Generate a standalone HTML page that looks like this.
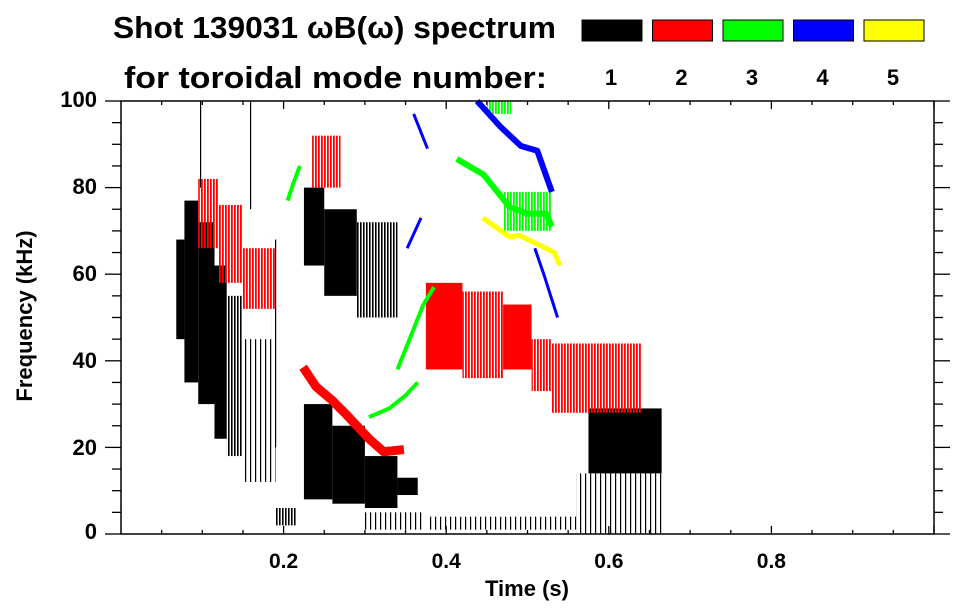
<!DOCTYPE html>
<html><head><meta charset="utf-8"><style>
html,body{margin:0;padding:0;background:#fff;}
svg{display:block;font-family:"Liberation Sans",sans-serif;font-weight:bold;}
</style></head><body>
<svg id="chart" width="963" height="615" viewBox="0 0 963 615" xmlns="http://www.w3.org/2000/svg">
<defs>
<pattern id="stripe-black" width="3" height="4" patternUnits="userSpaceOnUse"><rect width="1.6" height="4" fill="#000"/></pattern>
<pattern id="sparse-black" width="5" height="4" patternUnits="userSpaceOnUse"><rect width="1.2" height="4" fill="#000"/></pattern>
<pattern id="stripe-red" width="3" height="4" patternUnits="userSpaceOnUse"><rect width="1.8" height="4" fill="#f00"/></pattern>
<pattern id="stripe-green" width="3" height="4" patternUnits="userSpaceOnUse"><rect width="1.8" height="4" fill="#0f0"/></pattern>
</defs>
<g>
<text x="113" y="38" font-size="31" textLength="443" lengthAdjust="spacingAndGlyphs">Shot 139031 ωB(ω) spectrum</text>
<text x="124" y="88" font-size="31" textLength="423" lengthAdjust="spacingAndGlyphs">for toroidal mode number:</text>
</g>
<g id="legend"></g>
<g id="marks"></g>
<g id="axes"></g>
<text x="527" y="596" font-size="22" text-anchor="middle">Time (s)</text>
<text transform="translate(32,316) rotate(-90)" font-size="22" text-anchor="middle">Frequency (kHz)</text>
</svg>
<script>
// axis domains
const tMin = 0, tMax = 1, fMin = 0, fMax = 100;
const L = 121, R = 934, T = 101, B = 534;
function X(t){ return L + (t - tMin) / (tMax - tMin) * (R - L); }
function Y(f){ return B - (f - fMin) / (fMax - fMin) * (B - T); }

const xTicks = [0.2, 0.4, 0.6, 0.8];
const xTickLabels = ["0.2", "0.4", "0.6", "0.8"];
const yTicks = [0, 20, 40, 60, 80, 100];
const yTickLabels = ["0", "20", "40", "60", "80", "100"];
const legendModes = ["1", "2", "3", "4", "5"];
const legendColors = ["#000000", "#ff0000", "#00ff00", "#0000ff", "#ffff00"];

// blobs: time start, time end, freq low, freq high, density (2=solid,1=striped,0=sparse)
const m1T0 = [0.068,0.078,0.095,0.115,0.13,0.15,0.185,0.19,0.225,0.25,0.29,0.225,0.26,0.30,0.34,0.30,0.38,0.575,0.56,0.093,0.155];
const m1T1 = [0.078,0.095,0.115,0.13,0.15,0.19,0.195,0.215,0.25,0.29,0.34,0.26,0.30,0.34,0.365,0.37,0.56,0.665,0.665,0.10,0.162];
const m1F0 = [45,35,30,22,18,12,20,2,62,55,50,8,7,6,9,1,1,14,0,80,75];
const m1F1 = [68,77,72,62,55,45,68,6,80,75,72,30,25,18,13,5,4,29,14,100,100];
const m1D  = [2,2,2,2,1,0,0,1,2,2,1,2,2,2,2,0,0,2,0,0,0];

const m2T0 = [0.095,0.12,0.15,0.235,0.375,0.42,0.47,0.505,0.53];
const m2T1 = [0.12,0.15,0.19,0.27,0.42,0.47,0.505,0.53,0.64];
const m2F0 = [66,58,52,80,38,36,38,33,28];
const m2F1 = [82,76,66,92,58,56,53,45,44];
const m2D  = [1,1,1,1,2,1,2,1,0];

const m3T0 = [0.47];
const m3T1 = [0.53];
const m3F0 = [70];
const m3F1 = [79];
const m3D  = [1];

const m5T0 = [0.45];
const m5T1 = [0.48];
const m5F0 = [97];
const m5F1 = [100];
const m5D  = [1];

// ridge curves
const redCurveT = [0.224,0.24,0.259,0.275,0.29,0.305,0.323,0.348];
const redCurveF = [38.5,34,31,28,25,22,19,19.5];
const greenAT = [0.205,0.212,0.22];
const greenAF = [77,81,85];
const greenBT = [0.34,0.355,0.372,0.385];
const greenBF = [38,45,53,57];
const greenCT = [0.305,0.33,0.35,0.365];
const greenCF = [27,29,32,35];
const greenDT = [0.413,0.446,0.478,0.50,0.523,0.53];
const greenDF = [86.6,83,75.5,74,74,71];
const blueET = [0.438,0.467,0.492,0.512,0.53];
const blueEF = [100,94,89.6,88.5,79];
const blueFT = [0.36,0.377];
const blueFF = [97,89];
const blueGT = [0.352,0.369];
const blueGF = [66,73];
const blueHT = [0.509,0.52,0.537];
const blueHF = [66,60,50];
const yellowT = [0.445,0.46,0.478,0.49,0.533,0.54];
const yellowF = [73,71,68.6,69,65,62];

const NS = "http://www.w3.org/2000/svg";
const marks = document.getElementById("marks");
const axes = document.getElementById("axes");
const legend = document.getElementById("legend");
function mk(tag, attrs, parent){
  const el = document.createElementNS(NS, tag);
  for (const k in attrs) el.setAttribute(k, attrs[k]);
  parent.appendChild(el);
  return el;
}
function drawBlobs(t0, t1, f0, f1, d, color, stripe, sparse, name){
  for (let i = 0; i < t0.length; i++){
    const fill = d[i] === 2 ? color : (d[i] === 1 ? "url(#" + stripe + ")" : "url(#" + sparse + ")");
    const r = mk("rect", {x: X(t0[i]), y: Y(f1[i]), width: Math.max(1, X(t1[i]) - X(t0[i])), height: Math.max(1, Y(f0[i]) - Y(f1[i])), fill: fill}, marks);
    
    
  }
}
function drawCurve(ts, fs, color, w, name){
  const pts = ts.map((t, i) => X(t) + "," + Y(fs[i])).join(" ");
  const p = mk("polyline", {points: pts, fill: "none", stroke: color, "stroke-width": w, "stroke-linejoin": "round"}, marks);
  
  
}
drawBlobs(m1T0, m1T1, m1F0, m1F1, m1D, "#000", "stripe-black", "sparse-black", "mode-1-region");
drawBlobs(m2T0, m2T1, m2F0, m2F1, m2D, "#f00", "stripe-red", "stripe-red", "mode-2-region");
drawBlobs(m3T0, m3T1, m3F0, m3F1, m3D, "#0f0", "stripe-green", "stripe-green", "mode-3-region");
drawBlobs(m5T0, m5T1, m5F0, m5F1, m5D, "#ff0", "stripe-green", "stripe-green", "mode-5-region");
drawCurve(redCurveT, redCurveF, "#f00", 9, "mode-2-ridge");
drawCurve(greenAT, greenAF, "#0f0", 4, "mode-3-ridge-a");
drawCurve(greenBT, greenBF, "#0f0", 4, "mode-3-ridge-b");
drawCurve(greenCT, greenCF, "#0f0", 4, "mode-3-ridge-c");
drawCurve(greenDT, greenDF, "#0f0", 6, "mode-3-ridge-d");
drawCurve(blueET, blueEF, "#00f", 6, "mode-4-ridge-e");
drawCurve(blueFT, blueFF, "#00f", 3, "mode-4-ridge-f");
drawCurve(blueGT, blueGF, "#00f", 3, "mode-4-ridge-g");
drawCurve(blueHT, blueHF, "#00f", 3, "mode-4-ridge-h");
drawCurve(yellowT, yellowF, "#ff0", 5, "mode-5-ridge");

// frame
const fr = mk("rect", {x: L, y: T, width: R - L, height: B - T, fill: "none", stroke: "#000", "stroke-width": 1.5}, axes);


for (let t = 0.05; t < 1.0001; t += 0.05){
  const major = Math.abs(t * 5 - Math.round(t * 5)) < 1e-6;
  const len = major ? 8 : 4;
  const a = mk("line", {x1: X(t), x2: X(t), y1: B, y2: B - len, stroke: "#000", "stroke-width": 1.3}, axes);
  
  
  const b = mk("line", {x1: X(t), x2: X(t), y1: T, y2: T + len, stroke: "#000", "stroke-width": 1.3}, axes);
  
  
}
for (let f = 0; f <= 100; f += 5){
  const major = f % 20 === 0;
  const len = major ? 16 : 9;
  const a = mk("line", {x1: L, x2: L - len, y1: Y(f), y2: Y(f), stroke: "#000", "stroke-width": 1.3}, axes);
  
  
  const b = mk("line", {x1: R, x2: R + len, y1: Y(f), y2: Y(f), stroke: "#000", "stroke-width": 1.3}, axes);
  
  
}
xTicks.forEach((t, i) => {
  const tx = mk("text", {x: X(t), y: 568, "font-size": 21, "text-anchor": "middle"}, axes);
  tx.textContent = xTickLabels[i];
  
  
});
yTicks.forEach((f, i) => {
  const tx = mk("text", {x: 97, y: Y(f) + (f === 0 ? 0 : 3) + 5 - f * 0.02, "font-size": 22, "text-anchor": "end"}, axes);
  tx.textContent = yTickLabels[i];
  
  
});
legendModes.forEach((m, i) => {
  const x0 = 582 + i * 70.5;
  const r = mk("rect", {x: x0, y: 20, width: 60, height: 21, fill: legendColors[i], stroke: "#000", "stroke-width": 1}, legend);
  
  
  const tx = mk("text", {x: x0 + 29, y: 85, "font-size": 22, "text-anchor": "middle"}, legend);
  tx.textContent = m;
  
  
});
</script>
</body></html>
